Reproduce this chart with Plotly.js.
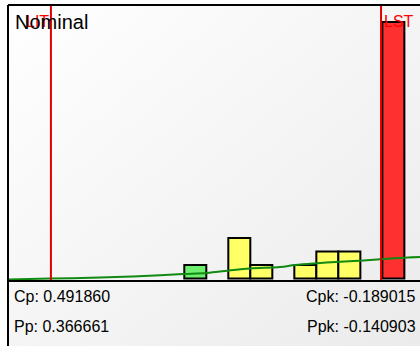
<!DOCTYPE html>
<html>
<head>
<meta charset="utf-8">
<script src="https://cdn.plot.ly/plotly-3.0.1.min.js"></script>
<style>
  html, body { margin: 0; padding: 0; background: #ffffff; }
  #chart { width: 420px; height: 346px; }
</style>
</head>
<body>
<div id="chart"></div>
<script>
// ---- data ----
const binIndex = [0, 2, 3, 5, 6, 7, 9];
const binCounts = [1, 3, 1, 1, 2, 2, 19];
const binColors = ['#6ef06e', '#ffff66', '#ffff66', '#ffff66', '#ffff66', '#ffff66', '#ff3030'];

const curveX = [-8.51, -6.60, -4.33, -2.83, -1.60, -0.56, 0.53, 1.49, 2.49, 3.85, 4.53, 5.53, 6.58, 7.49, 8.40, 9.53, 10.21];
const curveY = [-0.07, 0.00, 0.07, 0.15, 0.24, 0.33, 0.41, 0.58, 0.74, 0.85, 1.00, 1.13, 1.24, 1.32, 1.42, 1.54, 1.59];

const specLow = -6.56;   // LIT
const specHigh = 8.44;   // LST
const specLabels = ['LIT', 'LST'];

const titleText = 'Nominal';
const statsLeft = ['Cp: 0.491860', 'Pp: 0.366661'];
const statsRight = ['Cpk: -0.189015', 'Ppk: -0.140903'];

// ---- chart ----
const FONT = '"Liberation Sans", Arial, Helvetica, sans-serif';

const bgSvg = '<svg xmlns="http://www.w3.org/2000/svg" width="100" height="100" preserveAspectRatio="none">' +
  '<defs><linearGradient id="g" x1="0" y1="0" x2="1" y2="1">' +
  '<stop offset="0" stop-color="#ffffff"/><stop offset="1" stop-color="#ebebeb"/></linearGradient></defs>' +
  '<rect width="100" height="100" fill="url(#g)"/></svg>';
const bgUri = 'data:image/svg+xml;base64,' + btoa(bgSvg);

const traces = [
  {
    type: 'bar',
    x: binIndex,
    y: binCounts,
    width: 1,
    marker: { color: binColors, line: { color: '#000000', width: 2 } },
    hoverinfo: 'skip'
  },
  {
    type: 'scatter',
    mode: 'lines',
    x: curveX,
    y: curveY,
    line: { color: '#108a10', width: 2, shape: 'spline' },
    hoverinfo: 'skip'
  }
];

const layout = {
  width: 420,
  height: 346,
  margin: { l: 8, r: 0, t: 6, b: 66 },
  paper_bgcolor: '#ffffff',
  plot_bgcolor: 'rgba(0,0,0,0)',
  showlegend: false,
  bargap: 0,
  font: { family: FONT, color: '#000000' },
  xaxis: {
    range: [-8.51, 10.21],
    showgrid: false, zeroline: false, showticklabels: false, ticks: '',
    showline: true, linecolor: '#000000', linewidth: 2, mirror: true
  },
  yaxis: {
    range: [-0.11, 20.19],
    showgrid: false, zeroline: false, showticklabels: false, ticks: '',
    showline: false
  },
  images: [{
    source: bgUri, xref: 'paper', yref: 'paper',
    x: 0, y: 1, sizex: 1, sizey: 1.245,
    sizing: 'stretch', xanchor: 'left', yanchor: 'top', layer: 'below'
  }],
  shapes: [
    { type: 'line', xref: 'paper', yref: 'paper', x0: 0, x1: 0, y0: -0.26, y1: 1.004,
      line: { color: '#000000', width: 2 } },
    { type: 'line', xref: 'x', yref: 'paper', x0: specLow, x1: specLow, y0: 0, y1: 1,
      line: { color: '#e00000', width: 2 } },
    { type: 'line', xref: 'x', yref: 'paper', x0: specHigh, x1: specHigh, y0: 0, y1: 1,
      line: { color: '#e00000', width: 2 } }
  ],
  annotations: [
    { xref: 'x', yref: 'paper', x: specLow, y: 0.945, xanchor: 'right', yanchor: 'middle',
      xshift: -1, text: specLabels[0], showarrow: false, borderpad: 0,
      font: { family: FONT, size: 16, color: '#ff0000' } },
    { xref: 'x', yref: 'paper', x: specHigh, y: 0.945, xanchor: 'left', yanchor: 'middle',
      xshift: 2, text: specLabels[1], showarrow: false, borderpad: 0,
      font: { family: FONT, size: 16, color: '#ff0000' } },
    { xref: 'paper', yref: 'paper', x: 0.015, y: 0.9416, xanchor: 'left', yanchor: 'middle',
      text: titleText, showarrow: false, borderpad: 0,
      font: { family: FONT, size: 20, color: '#000000' } },
    { xref: 'paper', yref: 'paper', x: 0.0129, y: -0.059, xanchor: 'left', yanchor: 'middle',
      text: statsLeft[0], showarrow: false, borderpad: 0,
      font: { family: FONT, size: 16, color: '#000000' } },
    { xref: 'paper', yref: 'paper', x: 0.0129, y: -0.171, xanchor: 'left', yanchor: 'middle',
      text: statsLeft[1], showarrow: false, borderpad: 0,
      font: { family: FONT, size: 16, color: '#000000' } },
    { xref: 'paper', yref: 'paper', x: 0.9934, y: -0.059, xanchor: 'right', yanchor: 'middle',
      text: statsRight[0], showarrow: false, borderpad: 0,
      font: { family: FONT, size: 16, color: '#000000' } },
    { xref: 'paper', yref: 'paper', x: 0.9934, y: -0.171, xanchor: 'right', yanchor: 'middle',
      text: statsRight[1], showarrow: false, borderpad: 0,
      font: { family: FONT, size: 16, color: '#000000' } }
  ]
};

Plotly.newPlot('chart', traces, layout, { displayModeBar: false, staticPlot: true });
</script>
</body>
</html>
